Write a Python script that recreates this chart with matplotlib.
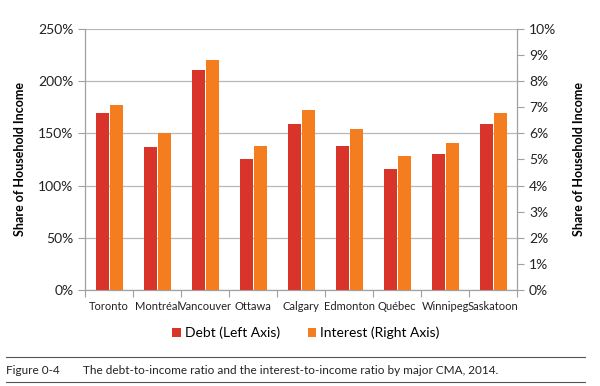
import numpy as np
import matplotlib.pyplot as plt
from matplotlib.ticker import FuncFormatter, MultipleLocator

plt.rcParams['font.family'] = ['Lato', 'DejaVu Sans']

cities = ["Toronto", "Montréal", "Vancouver", "Ottawa", "Calgary",
          "Edmonton", "Québec", "Winnipeg", "Saskatoon"]
debt = [169, 137, 211, 125, 159, 138, 116, 130, 159]            # % (left axis)
interest = [7.1, 6.0, 8.8, 5.5, 6.88, 6.17, 5.13, 5.64, 6.76]  # % (right axis)

red = '#d93429'
orange = '#f47d20'
grey = '#a0a0a0'

fig = plt.figure(figsize=(6.0, 3.86), dpi=100)
ax = fig.add_axes([0.142, 0.249, 0.72, 0.676])
ax2 = ax.twinx()

x = np.arange(len(cities))
w = 0.27
ax.bar(x - w / 2 - 0.01, debt, w, color=red, zorder=3, label='Debt (Left Axis)')
ax2.bar(x + w / 2 + 0.01, interest, w, color=orange, zorder=3, label='Interest (Right Axis)')

ax.set_xlim(-0.5, len(cities) - 0.5)
ax.set_ylim(0, 250)
ax2.set_ylim(0, 10)
ax.yaxis.set_major_locator(MultipleLocator(50))
ax2.yaxis.set_major_locator(MultipleLocator(1))
ax.yaxis.set_major_formatter(FuncFormatter(lambda v, p: f"{v:.0f}%"))
ax2.yaxis.set_major_formatter(FuncFormatter(lambda v, p: f"{v:.0f}%"))

ax.grid(axis='y', color='#b8b8b8', linewidth=0.9, zorder=0)
ax.set_axisbelow(True)

# category ticks between groups
ax.set_xticks(np.arange(-0.5, len(cities), 1.0))
ax.set_xticklabels([])
ax.set_xticks(x, minor=True)
ax.set_xticklabels(cities, minor=True, fontsize=8)
ax.tick_params(axis='x', which='minor', length=0, pad=8, colors='#222222')
ax.tick_params(axis='x', which='major', length=5, color=grey)

ax.tick_params(axis='y', length=5, color=grey, labelsize=10, labelcolor='#222222')
ax2.tick_params(axis='y', length=5, color=grey, labelsize=10, labelcolor='#222222')

for a in (ax, ax2):
    a.spines['top'].set_visible(False)
    for s in ('left', 'right', 'bottom'):
        a.spines[s].set_color(grey)

ax.set_ylabel('Share of Household Income', fontsize=9, fontweight='bold', labelpad=9)
ax2.set_ylabel('Share of Household Income', fontsize=9, fontweight='bold', labelpad=12)

h1, l1 = ax.get_legend_handles_labels()
h2, l2 = ax2.get_legend_handles_labels()
fig.legend(h1 + h2, l1 + l2, loc='center', bbox_to_anchor=(0.51, 0.138), ncol=2,
           frameon=False, fontsize=10, handlelength=0.6, handleheight=0.6,
           handletextpad=0.3, columnspacing=2.0)

# caption
fig.add_artist(plt.Line2D([0.01, 0.975], [1 - 356.5 / 386] * 2, color='#555555', linewidth=0.8))
fig.add_artist(plt.Line2D([0.01, 0.975], [1 - 382 / 386] * 2, color='#555555', linewidth=0.8))
fig.text(0.01, 1 - 370 / 386, 'Figure 0-4', fontsize=8.5, va='center', color='#222222')
fig.text(0.138, 1 - 370 / 386,
         'The debt-to-income ratio and the interest-to-income ratio by major CMA, 2014.',
         fontsize=8.5, va='center', color='#222222')

fig.savefig('out.png', dpi=100)
